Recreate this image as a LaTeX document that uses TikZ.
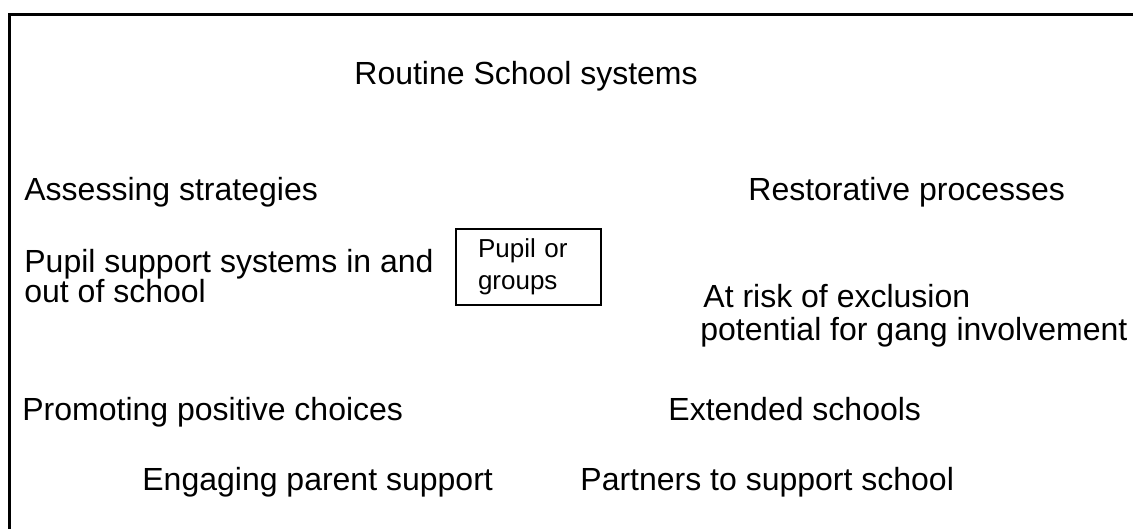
\documentclass[tikz,border=0pt]{standalone}
\usepackage{fontspec}
\setmainfont{Liberation Sans}
\setsansfont{Liberation Sans}
\tikzset{
  %% topic : one of the areas of work round the pupil
  topic/.style={
    anchor=base west,
    inner sep=0pt,
    align=left,
    font=\fontsize{16}{15}\selectfont
  },
  %% pupil : the pupil or group in the middle
  pupil/.style={
    rectangle,
    draw=black,
    line width=1pt,
    anchor=north west,
    minimum width=72.5pt,
    minimum height=38pt,
    inner xsep=11pt,
    text width=50.5pt,
    align=left,
    font=\fontsize{13}{16}\selectfont
  },
  %% frame : open frame round the whole figure
  frame/.style={black, line width=1.5pt}
}

\begin{document}
\begin{tikzpicture}
  [x=0.5pt,
  y=-0.5pt]
  \sffamily

  \useasboundingbox (0,0) rectangle (1133,529);

  %% Frame (only left and top side show)
  \coordinate (framebl) at (9.5,529);
  \coordinate (frametl) at (9.5,15);
  \coordinate (frametr) at (1133,15);
  \draw [frame] (framebl) -- (frametl) -- (frametr);

  %% Centre
  \node (pupil) [pupil] at (455,228) {%
    Pupil or\\
    groups};

  %% Areas round it
  %% (multi-line nodes sit on the baseline of their last line)
  \node (routine) [topic] at (354,85) {Routine School systems};

  \node (assessing) [topic] at (24,200) {Assessing strategies};
  \node (restorative) [topic] at (748,200) {Restorative processes};

  \node (support) [topic] at (24,302) {%
    Pupil support systems in and\\
    out of school};

  \node (atrisk) [topic, font=\fontsize{16}{16.5}\selectfont] at (700,340) {%
    \hspace*{1.5pt}At risk of exclusion\\
    potential for gang involvement};

  \node (promoting) [topic] at (22,420) {Promoting positive choices};
  \node (extended) [topic] at (668,420) {Extended schools};

  \node (parent) [topic] at (142,490) {Engaging parent support};
  \node (partners) [topic] at (580,490) {Partners to support school};

\end{tikzpicture}
\end{document}
